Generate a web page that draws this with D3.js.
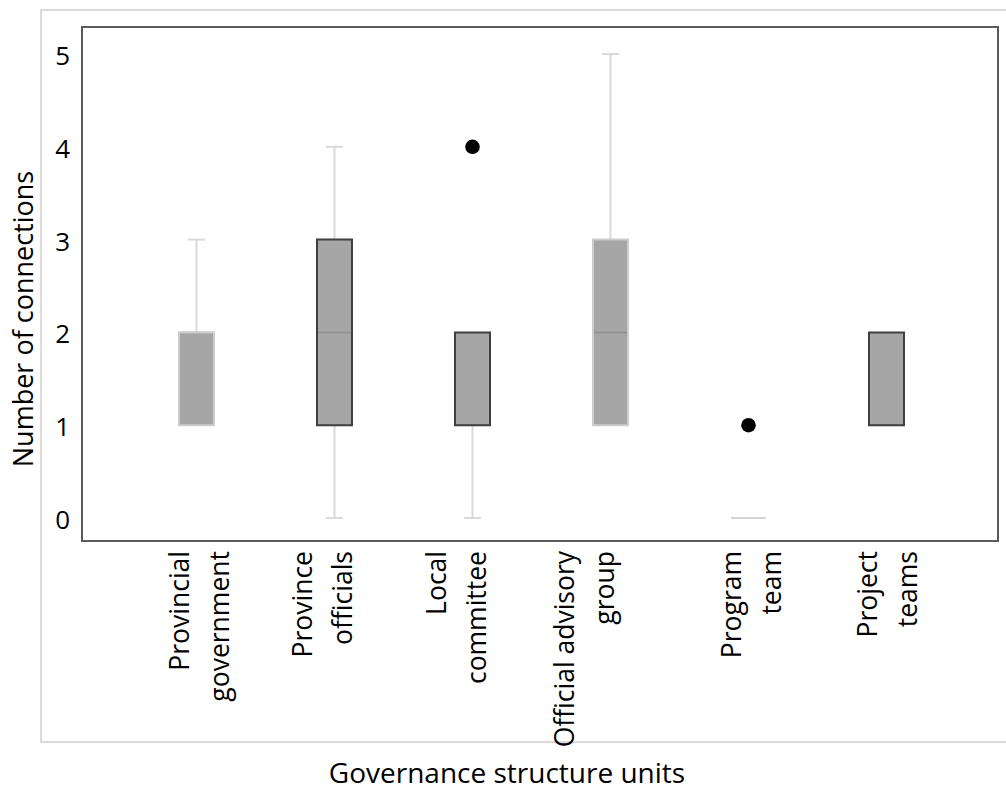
<!DOCTYPE html>
<html>
<head>
<meta charset="utf-8">
<script src="https://cdn.jsdelivr.net/npm/d3@7/dist/d3.min.js"></script>
<style>
  html, body { margin: 0; padding: 0; background: #fff; }
  svg { display: block; }
  text { font-family: "Open Sans", Lato, sans-serif; fill: #000; }
</style>
</head>
<body>
<svg id="chart" width="1006" height="792"></svg>
<script>
// Governance structure units and their connection counts (box-plot summaries)
const categories = [
  "Provincial government",
  "Province officials",
  "Local committee",
  "Official advisory group",
  "Program team",
  "Project teams"
];
const labelLines = [
  ["Provincial", "government"],
  ["Province", "officials"],
  ["Local", "committee"],
  ["Official advisory", "group"],
  ["Program", "team"],
  ["Project", "teams"]
];
const minValues    = [1, 0, 0, 1, 0, 1];
const q1Values     = [1, 1, 1, 1, 0, 1];
const medianValues = [2, 2, 1, 2, 0, 1];
const q3Values     = [2, 3, 2, 3, 0, 2];
const maxValues    = [3, 4, 2, 5, 0, 2];
const outlierCategories = ["Local committee", "Program team"];
const outlierValues     = [4, 1];
const yTicks = [0, 1, 2, 3, 4, 5];
const xTitle = "Governance structure units";
const yTitle = "Number of connections";

// Layout and styling
const frame = { x: 41, y: 10, w: 975, h: 732 };
const plot = { left: 82, top: 27, right: 998, bottom: 541 };
const boxStroke = ["#cccccc", "#3f3f3f", "#3f3f3f", "#cccccc", "#d4d4d4", "#3f3f3f"];
const labelShift = [3, -12, -16, -26, 3, 1];   // nudge of each wrapped label block
const labelGap = 40;
const fontFamily = "'Open Sans', Lato, sans-serif";

const svg = d3.select("#chart");

const x = d3.scaleBand().domain(categories).range([127.5, 955.5]);
const y = d3.scaleLinear().domain([0, 5]).range([518, 54]);
const boxW = 35, capW = 17;

// outer chart-area border
svg.append("rect")
  .attr("x", frame.x).attr("y", frame.y)
  .attr("width", frame.w).attr("height", frame.h)
  .attr("fill", "none").attr("stroke", "#d0d0d0").attr("stroke-width", 1.5);

// plot-area border
svg.append("rect")
  .attr("x", plot.left).attr("y", plot.top)
  .attr("width", plot.right - plot.left).attr("height", plot.bottom - plot.top)
  .attr("fill", "none").attr("stroke", "#5a5a5a").attr("stroke-width", 2);

// y axis labels
const yAxis = d3.axisLeft(y).tickValues(yTicks).tickFormat(d3.format("d"))
  .tickSize(0).tickPadding(12);
const yg = svg.append("g").attr("transform", `translate(${plot.left},0)`).call(yAxis);
yg.select(".domain").remove();
yg.selectAll("text")
  .attr("font-size", 26)
  .attr("font-family", fontFamily)
  .attr("fill", "#000")
  .attr("dy", "0.4em");

const rows = categories.map((c, i) => ({
  cat: c, i,
  min: minValues[i], q1: q1Values[i], med: medianValues[i],
  q3: q3Values[i], max: maxValues[i]
}));
const cx = d => x(d.cat) + x.bandwidth() / 2;

const boxes = svg.append("g");

// whiskers
rows.forEach(d => {
  const g = boxes.append("g");
  if (d.max > d.q3) {
    g.append("line").attr("x1", cx(d)).attr("x2", cx(d))
      .attr("y1", y(d.q3)).attr("y2", y(d.max));
    g.append("line").attr("x1", cx(d) - capW / 2).attr("x2", cx(d) + capW / 2)
      .attr("y1", y(d.max)).attr("y2", y(d.max));
  }
  if (d.min < d.q1) {
    g.append("line").attr("x1", cx(d)).attr("x2", cx(d))
      .attr("y1", y(d.q1)).attr("y2", y(d.min));
    g.append("line").attr("x1", cx(d) - capW / 2).attr("x2", cx(d) + capW / 2)
      .attr("y1", y(d.min)).attr("y2", y(d.min));
  }
  g.selectAll("line").attr("stroke", "#d9d9d9").attr("stroke-width", 2);
});

// box fill
boxes.selectAll("rect.fill").data(rows).join("rect")
  .attr("class", "fill")
  .attr("x", d => cx(d) - boxW / 2)
  .attr("y", d => y(d.q3))
  .attr("width", boxW)
  .attr("height", d => y(d.q1) - y(d.q3))
  .attr("fill", "#a6a6a6");

// medians
boxes.selectAll("line.median").data(rows.filter(d => d.q3 > d.q1)).join("line")
  .attr("class", "median")
  .attr("x1", d => cx(d) - boxW / 2).attr("x2", d => cx(d) + boxW / 2)
  .attr("y1", d => y(d.med)).attr("y2", d => y(d.med))
  .attr("stroke", "#8f8f8f").attr("stroke-width", 1.5);

// box outlines (a path, so a collapsed box still shows as a line)
boxes.selectAll("path.outline").data(rows).join("path")
  .attr("class", "outline")
  .attr("d", d => {
    const x0 = cx(d) - boxW / 2, x1 = cx(d) + boxW / 2;
    return `M${x0},${y(d.q3)}H${x1}V${y(d.q1)}H${x0}Z`;
  })
  .attr("fill", "none")
  .attr("stroke", d => boxStroke[d.i])
  .attr("stroke-width", 2);

// outliers
svg.append("g").selectAll("circle")
  .data(outlierValues.map((v, i) => ({ cat: outlierCategories[i], v })))
  .join("circle")
  .attr("cx", d => x(d.cat) + x.bandwidth() / 2)
  .attr("cy", d => y(d.v))
  .attr("r", 7.3)
  .attr("fill", "#000");

// rotated, wrapped category labels
const labels = svg.append("g");
rows.forEach(d => {
  const lines = labelLines[d.i];
  const base = cx(d) + labelShift[d.i];
  lines.forEach((t, k) => {
    const lx = base + (k - (lines.length - 1) / 2) * labelGap;
    labels.append("text")
      .attr("transform", `translate(${lx},551) rotate(-90)`)
      .attr("text-anchor", "end")
      .attr("dy", "0.35em")
      .attr("font-size", 26.5)
      .text(t);
  });
});

// axis titles
svg.append("text")
  .attr("transform", `translate(24,319) rotate(-90)`)
  .attr("text-anchor", "middle")
  .attr("dy", "0.35em")
  .attr("font-size", 27)
  .text(yTitle);

svg.append("text")
  .attr("x", 507).attr("y", 783)
  .attr("text-anchor", "middle")
  .attr("font-size", 28)
  .text(xTitle);
</script>
</body>
</html>
